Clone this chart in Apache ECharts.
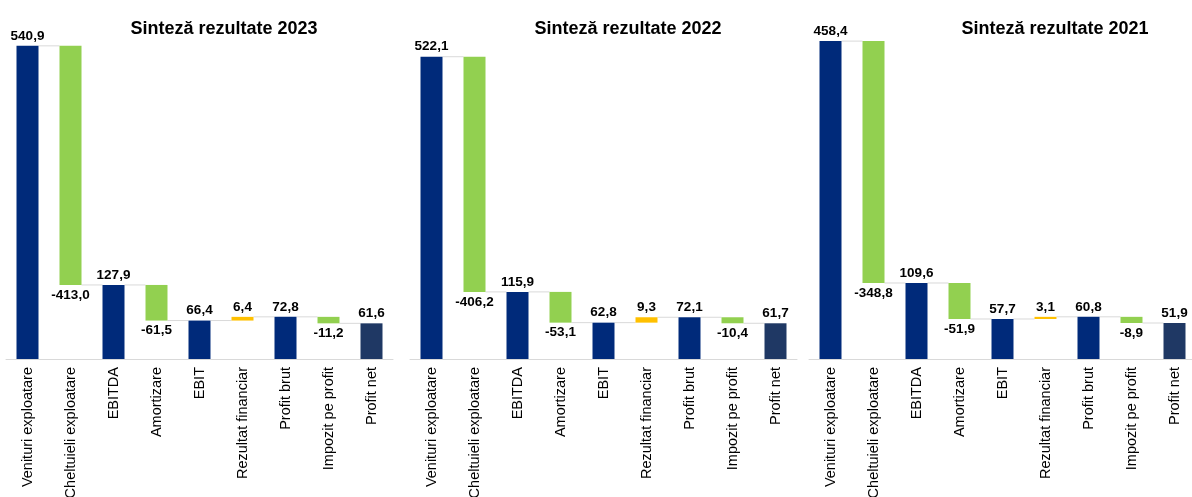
<!DOCTYPE html>
<html>
<head>
<meta charset="utf-8">
<script src="https://cdn.jsdelivr.net/npm/echarts@6/dist/echarts.min.js"></script>
<style>
  html, body { margin: 0; padding: 0; background: #fff; }
  #chart { width: 1192px; height: 497px; }
</style>
</head>
<body>
<div id="chart"></div>
<script>
  // categorii comune
  const categories = ['Venituri exploatare', 'Cheltuieli exploatare', 'EBITDA', 'Amortizare', 'EBIT',
    'Rezultat financiar', 'Profit brut', 'Impozit pe profit', 'Profit net']
  // total = bara de la zero, delta = variatie fata de bara anterioara
  const kinds = ['total', 'delta', 'total', 'delta', 'total', 'delta', 'total', 'delta', 'net']

  const titles = ['Sinteză rezultate 2023', 'Sinteză rezultate 2022', 'Sinteză rezultate 2021']
  const values2023 = [540.9, -413.0, 127.9, -61.5, 66.4, 6.4, 72.8, -11.2, 61.6]
  const values2022 = [522.1, -406.2, 115.9, -53.1, 62.8, 9.3, 72.1, -10.4, 61.7]
  const values2021 = [458.4, -348.8, 109.6, -51.9, 57.7, 3.1, 60.8, -8.9, 51.9]
  const allValues = [values2023, values2022, values2021]

  const colors = {
    total: '#002A7A',
    net: '#1F3864',
    down: '#92D050',
    up: '#FFC000'
  }

  const barW = 22
  const panels = [
    { left: 6, width: 387, max: 551, titleX: 219 },
    { left: 410, width: 387, max: 551, titleX: 623 },
    { left: 809, width: 387, max: 460, titleX: 1050 }
  ]

  function fmt(v) {
    return v.toFixed(1).replace('.', ',')
  }

  // calculeaza baza, inaltimea si nivelul curent pentru fiecare bara
  function waterfall(values) {
    let run = 0
    const base = []
    const bars = []
    const levels = []
    values.forEach((v, i) => {
      const k = kinds[i]
      let item
      if (k === 'delta') {
        const lo = Math.min(run, run + v)
        base.push(lo)
        item = {
          value: Math.abs(v),
          raw: v,
          itemStyle: { color: v < 0 ? colors.down : colors.up },
          label: { position: v < 0 ? 'bottom' : 'top' }
        }
        run += v
      } else {
        base.push(0)
        item = {
          value: v,
          raw: v,
          itemStyle: { color: k === 'net' ? colors.net : colors.total },
          label: { position: 'top' }
        }
        run = v
      }
      bars.push(item)
      levels.push(run)
    })
    return { base, bars, levels }
  }

  const chart = echarts.init(document.getElementById('chart'))

  const grid = []
  const xAxis = []
  const yAxis = []
  const series = []
  const title = []

  allValues.forEach((values, idx) => {
    const p = panels[idx]
    const wf = waterfall(values)
    grid.push({
      left: p.left, width: p.width, top: 40, bottom: 138,
      containLabel: false, outerBoundsMode: 'none'
    })
    title.push({
      text: titles[idx],
      left: p.titleX,
      top: 15,
      textAlign: 'center',
      textStyle: { fontFamily: 'Liberation Sans, Arial', fontSize: 18, fontWeight: 'bold', color: '#000' }
    })
    xAxis.push({
      type: 'category',
      gridIndex: idx,
      data: categories,
      axisLine: { lineStyle: { color: '#d9d9d9', width: 1 } },
      axisTick: { show: false },
      axisLabel: {
        interval: 0,
        rotate: 90,
        margin: 8,
        color: '#000',
        fontFamily: 'Liberation Sans, Arial',
        fontSize: 14.5
      }
    })
    yAxis.push({ type: 'value', gridIndex: idx, min: 0, max: p.max, show: false, splitLine: { show: false } })

    series.push({
      type: 'bar',
      xAxisIndex: idx,
      yAxisIndex: idx,
      stack: 'wf' + idx,
      barWidth: barW,
      silent: true,
      itemStyle: { color: 'transparent' },
      data: wf.base
    })
    series.push({
      type: 'bar',
      xAxisIndex: idx,
      yAxisIndex: idx,
      stack: 'wf' + idx,
      barWidth: barW,
      label: {
        show: true,
        color: '#000',
        fontFamily: 'Liberation Sans, Arial',
        fontSize: 13.5,
        fontWeight: 'bold',
        distance: 3,
        formatter: (prm) => fmt(prm.data.raw)
      },
      data: wf.bars
    })
    // linii de legatura intre bare
    series.push({
      type: 'custom',
      xAxisIndex: idx,
      yAxisIndex: idx,
      silent: true,
      z: 1,
      renderItem: (params, api) => {
        const i = api.value(0)
        const lv = api.value(1)
        const a = api.coord([i, lv])
        const b = api.coord([i + 1, lv])
        return {
          type: 'line',
          shape: { x1: a[0] + barW / 2, y1: a[1], x2: b[0] - barW / 2, y2: b[1] },
          style: { stroke: '#d9d9d9', lineWidth: 1 }
        }
      },
      data: wf.levels.slice(0, -1).map((lv, i) => [i, lv])
    })
  })

  chart.setOption({
    animation: false,
    title,
    grid,
    xAxis,
    yAxis,
    series
  })
</script>
</body>
</html>
